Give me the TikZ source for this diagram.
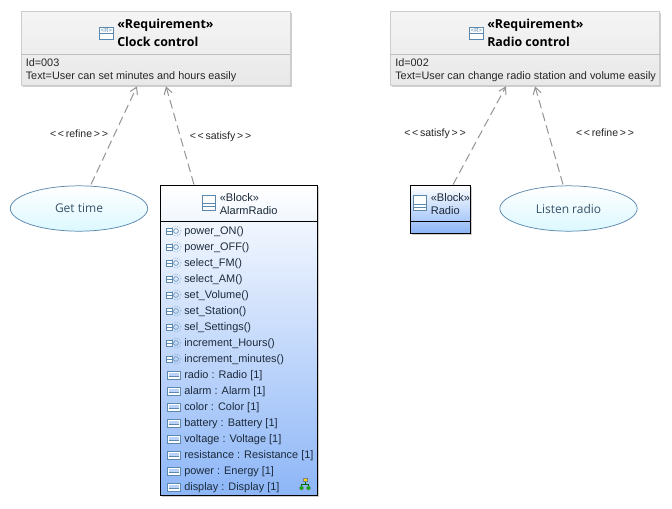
\documentclass[tikz,border=0pt]{standalone}
\usepackage{fontspec}
\setmainfont{Liberation Sans}
\newfontfamily\titlefont{Open Sans}
\usetikzlibrary{shapes.geometric,arrows.meta,calc,shadows}
\definecolor{blockblue}{HTML}{8DB6F7}
\definecolor{iconblue}{HTML}{5B88AE}
\definecolor{inktext}{HTML}{1C2A3A}
\tikzset{
  x=0.75pt,y=-0.75pt,
  softshadow/.style={drop shadow={shadow xshift=1.2pt,shadow yshift=-1.2pt,fill=black!35,opacity=.55}},
  reqbox/.style={draw=black!20,line width=.5pt,minimum width=201.75pt,minimum height=55.5pt,inner sep=0pt,
    top color=black!4,bottom color=black!9,softshadow},
  blockbox/.style={draw=black,line width=.6pt,inner sep=0pt,top color=white,bottom color=blockblue,softshadow},
  usecase/.style={ellipse,draw=iconblue,line width=.55pt,minimum width=103pt,minimum height=34pt,inner sep=0pt,
    top color=white,bottom color=blue!20!cyan!14!white,text=iconblue!60!black,font=\titlefont\fontsize{9}{11}\selectfont},
  reqtitle/.style={anchor=west,inner sep=0pt,font=\titlefont\bfseries\fontsize{9.3}{12}\selectfont},
  reqtext/.style={anchor=west,inner sep=0pt,text=black!85,font=\fontsize{8.15}{10}\selectfont},
  blocktext/.style={anchor=west,inner sep=0pt,text=inktext,font=\fontsize{8.3}{10}\selectfont},
  itemtext/.style={anchor=west,inner sep=0pt,text=inktext,font=\fontsize{8.2}{10}\selectfont},
  linklabel/.style={inner sep=0pt,text=black!85,font=\fontsize{7.9}{10}\selectfont},
  dep/.style={draw=black!42,line width=.75pt,dash pattern=on 6.5pt off 3.4pt,
    arrows={-Straight Barb[length=5pt,width=6pt]}},
  sep/.style={draw=black!25,line width=.5pt},
  blocksep/.style={draw=black,line width=.6pt},
  iconline/.style={draw=iconblue,line width=.5pt},
  pics/reqicon/.style={code={
    \draw[iconline,fill=white] (0,0) rectangle (14,12);
    \draw[iconline] (0,6.5) -- (14,6.5);
    \node[inner sep=0pt,text=iconblue,font=\fontsize{4.4}{5}\selectfont] at (7,3.2) {<R>};
  }},
  pics/blockicon/.style={code={
    \draw[iconline,fill=white] (0,0) rectangle (12.5,15);
    \draw[iconline] (0,8.5) -- (12.5,8.5) (0,11.5) -- (12.5,11.5);
  }},
  pics/opicon/.style={code={
    \draw[iconline,line width=.4pt,densely dotted] (10,0) circle (5);
    \draw[iconline,line width=.4pt,fill=white] (0,-3) rectangle (6,3);
    \draw[iconline,line width=.4pt] (0,0) -- (6,0);
    \draw[iconline,line width=.45pt] (10,0) circle (2.4);
  }},
  pics/propicon/.style={code={
    \draw[iconline,line width=.55pt,fill=white] (0,-4) rectangle (13,4);
    \fill[blockblue!60!white] (1.5,-2) rectangle (11.5,1.5);
    \draw[iconline,line width=.4pt] (1.5,1.5) -- (11.5,1.5);
  }}
}
\begin{document}
\begin{tikzpicture}
\useasboundingbox (0,0) rectangle (672,508);
\fill[white] (0,0) rectangle (672,508);

% requirements
\node[reqbox] (clock) at (155.5,48) {};
\node[reqbox] (radioreq) at (525,48) {};
\draw[sep] (clock.west |- 0,54) -- (clock.east |- 0,54);
\draw[sep] (radioreq.west |- 0,54) -- (radioreq.east |- 0,54);
\pic at (99.5,27) {reqicon};
\pic at (469.5,27) {reqicon};
\node[reqtitle] (t1a) at (117,25) {«Requirement»};
\node[reqtitle] (t1b) at (117,41.5) {Clock control};
\node[reqtext] (t1c) at (25.5,63) {Id=003};
\node[reqtext] (t1d) at (25.5,77) {Text=User can set minutes and hours easily};
\node[reqtitle] (t2a) at (487,25) {«Requirement»};
\node[reqtitle] (t2b) at (487,41.5) {Radio control};
\node[reqtext] (t2c) at (395,63) {Id=002};
\node[reqtext] (t2d) at (395,77) {Text=User can change radio station and volume easily};

% use cases
\node[usecase] (gettime) at (79,208.5) {Get time};
\node[usecase] (listen) at (568.5,208.5) {Listen radio};

% blocks
\node[blockbox,minimum width=117.75pt,minimum height=232.5pt] (alarm) at (238.5,340) {};
\node[blockbox,minimum width=45pt,minimum height=36pt] (radioblock) at (440,209) {};
\draw[blocksep] (alarm.west |- 0,221) -- (alarm.east |- 0,221);
\draw[blocksep] (radioblock.west |- 0,221) -- (radioblock.east |- 0,221);
\pic at (202.5,195) {blockicon};
\pic at (413.5,195.5) {blockicon};
\node[blocktext] (b1a) at (219.5,197.5) {«Block»};
\node[blocktext] (b1b) at (219.5,210.5) {AlarmRadio};
\node[blocktext] (b2a) at (430.5,197.5) {«Block»};
\node[blocktext] (b2b) at (430.5,210.5) {Radio};

% operations
\foreach \name [count=\k from 0] in {power\_ON(),power\_OFF(),select\_FM(),select\_AM(),set\_Volume(),set\_Station(),sel\_Settings(),increment\_Hours(),increment\_minutes()}{
  \pic at (166,231+16*\k) {opicon};
  \node[itemtext] (op\k) at (184,232+16*\k) {\name};
}
% properties
\foreach \name [count=\k from 0] in {radio : Radio [1],alarm : Alarm [1],color : Color [1],battery : Battery [1],voltage : Voltage [1],resistance : Resistance [1],power : Energy [1],display : Display [1]}{
  \pic at (167,375+16*\k) {propicon};
  \node[itemtext] (pr\k) at (184,376+16*\k) {\name};
}

% structure icon
\draw[black!60!green,line width=.4pt] (305,481) -- (305,484) (301.5,487) -- (301.5,484) -- (308.5,484) -- (308.5,487);
\draw[black!50,line width=.3pt,fill=yellow!80!orange] (303,478) rectangle (307,481.5);
\draw[black!50,line width=.3pt,fill=green!70!black] (301.5,488) circle (2);
\draw[black!50,line width=.3pt,fill=green!70!black] (308.5,488) circle (2);

% connectors
\draw[dep] ($(gettime.north)+(12,-1)$) -- ($(clock.south)+(-18.5,1)$);
\draw[dep] ($(alarm.north)+(-44.5,0)$) -- ($(clock.south)+(10.5,1)$);
\draw[dep] ($(radioblock.north)+(13,0)$) -- ($(radioreq.south)+(-19,1)$);
\draw[dep] ($(listen.north)+(-5.5,-1)$) -- ($(radioreq.south)+(10,1)$);

% link labels
\node[linklabel] (l1) at (79,133.5) {<\,<\,refine\,>\,>};
\node[linklabel] (l2) at (220.5,136.5) {<\,<\,satisfy\,>\,>};
\node[linklabel] (l3) at (435,133.5) {<\,<\,satisfy\,>\,>};
\node[linklabel] (l4) at (605,132.5) {<\,<\,refine\,>\,>};
\end{tikzpicture}
\end{document}
